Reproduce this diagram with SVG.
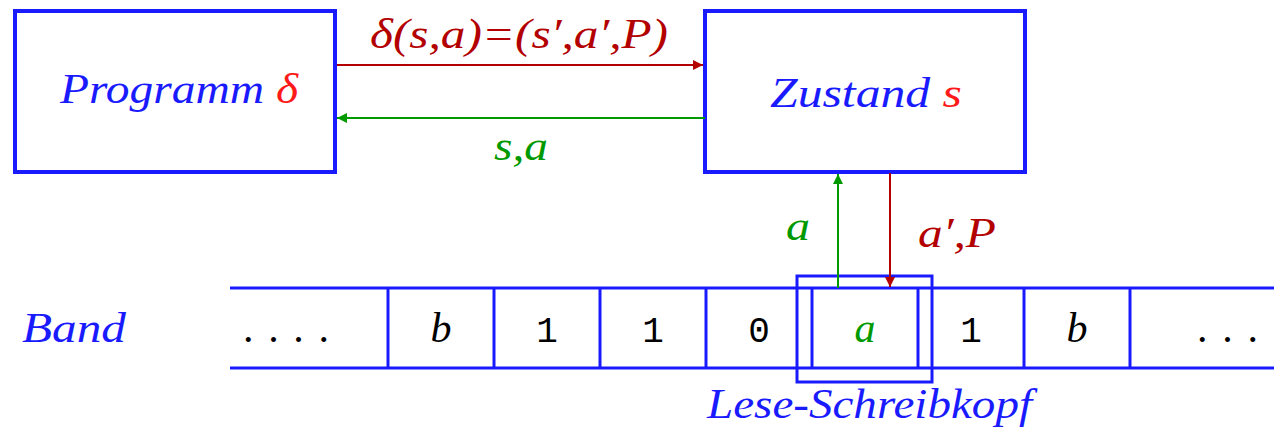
<svg xmlns="http://www.w3.org/2000/svg" width="1274" height="430" viewBox="0 0 1274 430">
<style>
.box{fill:none;stroke:#1a1aff;stroke-width:4}
.cell{fill:none;stroke:#1a1aff;stroke-width:3}
.ar{stroke:#b30000;stroke-width:2;fill:none}
.ag{stroke:#009900;stroke-width:2;fill:none}
</style>
<defs>
<marker id="hr" viewBox="0 0 10 10" refX="10" refY="5" markerWidth="10" markerHeight="10" markerUnits="userSpaceOnUse" orient="auto"><path d="M0,0 L10,5 L0,10 Z" fill="#b30000"/></marker>
<marker id="hg" viewBox="0 0 10 10" refX="10" refY="5" markerWidth="10" markerHeight="10" markerUnits="userSpaceOnUse" orient="auto"><path d="M0,0 L10,5 L0,10 Z" fill="#009900"/></marker>
</defs>
<rect width="1274" height="430" fill="#fff"/>

<g id="programm">
<rect class="box" x="15" y="11" width="320" height="161"/>
<text x="60" y="103" font-family="Liberation Serif, serif" font-size="42" font-style="italic" textLength="238" lengthAdjust="spacingAndGlyphs"><tspan fill="#1a1aff">Programm </tspan><tspan fill="#ff1a1a">δ</tspan></text>
</g>

<g id="zustand">
<rect class="box" x="705" y="11" width="320" height="161"/>
<text x="770" y="107" font-family="Liberation Serif, serif" font-size="42" font-style="italic" textLength="192" lengthAdjust="spacingAndGlyphs"><tspan fill="#1a1aff">Zustand </tspan><tspan fill="#ff1a1a">s</tspan></text>
</g>

<g id="band">
<line class="cell" x1="230" y1="288" x2="1274" y2="288"/>
<line class="cell" x1="230" y1="368" x2="1274" y2="368"/>
<line class="cell" x1="388" y1="288" x2="388" y2="368"/>
<line class="cell" x1="494" y1="288" x2="494" y2="368"/>
<line class="cell" x1="600" y1="288" x2="600" y2="368"/>
<line class="cell" x1="706" y1="288" x2="706" y2="368"/>
<line class="cell" x1="812" y1="288" x2="812" y2="368"/>
<line class="cell" x1="918" y1="288" x2="918" y2="368"/>
<line class="cell" x1="1024" y1="288" x2="1024" y2="368"/>
<line class="cell" x1="1130" y1="288" x2="1130" y2="368"/>
<text x="22" y="342" font-family="Liberation Serif, serif" font-size="42" font-style="italic" fill="#1a1aff" textLength="104" lengthAdjust="spacingAndGlyphs">Band</text>
<text x="243" y="342" font-family="Liberation Serif, serif" font-size="42" fill="#000" textLength="86" lengthAdjust="spacing">. . . .</text>
<text x="441" y="342" font-family="Liberation Serif, serif" font-size="42" font-style="italic" fill="#000" text-anchor="middle">b</text>
<text x="547" y="342" font-family="Liberation Mono, monospace" font-size="36" fill="#000" text-anchor="middle">1</text>
<text x="653" y="342" font-family="Liberation Mono, monospace" font-size="36" fill="#000" text-anchor="middle">1</text>
<text x="759" y="342" font-family="Liberation Mono, monospace" font-size="36" fill="#000" text-anchor="middle">0</text>
<text x="865" y="342" font-family="Liberation Serif, serif" font-size="42" font-style="italic" fill="#009900" text-anchor="middle">a</text>
<text x="971" y="342" font-family="Liberation Mono, monospace" font-size="36" fill="#000" text-anchor="middle">1</text>
<text x="1077" y="342" font-family="Liberation Serif, serif" font-size="42" font-style="italic" fill="#000" text-anchor="middle">b</text>
<text x="1197" y="342" font-family="Liberation Serif, serif" font-size="42" fill="#000" textLength="61" lengthAdjust="spacing">. . .</text>
</g>

<g id="kopf">
<rect class="cell" x="797" y="276" width="135" height="106"/>
<text x="707" y="418" font-family="Liberation Serif, serif" font-size="42" font-style="italic" fill="#1a1aff" textLength="325" lengthAdjust="spacingAndGlyphs">Lese-Schreibkopf</text>
</g>

<g id="connectors">
<line class="ar" x1="337" y1="65" x2="703" y2="65" marker-end="url(#hr)"/>
<text x="370" y="48" font-family="Liberation Serif, serif" font-size="42" font-style="italic" fill="#b30000" textLength="298" lengthAdjust="spacingAndGlyphs">δ(s,a)=(s′,a′,P)</text>
<line class="ag" x1="705" y1="118" x2="337" y2="118" marker-end="url(#hg)"/>
<text x="494" y="160" font-family="Liberation Serif, serif" font-size="42" font-style="italic" fill="#009900" textLength="54" lengthAdjust="spacingAndGlyphs">s,a</text>
<line class="ag" x1="838" y1="288" x2="838" y2="174" marker-end="url(#hg)"/>
<text x="786" y="240" font-family="Liberation Serif, serif" font-size="42" font-style="italic" fill="#009900" textLength="24" lengthAdjust="spacingAndGlyphs">a</text>
<line class="ar" x1="890" y1="173" x2="890" y2="287" marker-end="url(#hr)"/>
<text x="918" y="247" font-family="Liberation Serif, serif" font-size="42" font-style="italic" fill="#b30000" textLength="78" lengthAdjust="spacingAndGlyphs">a′,P</text>
</g>
</svg>
